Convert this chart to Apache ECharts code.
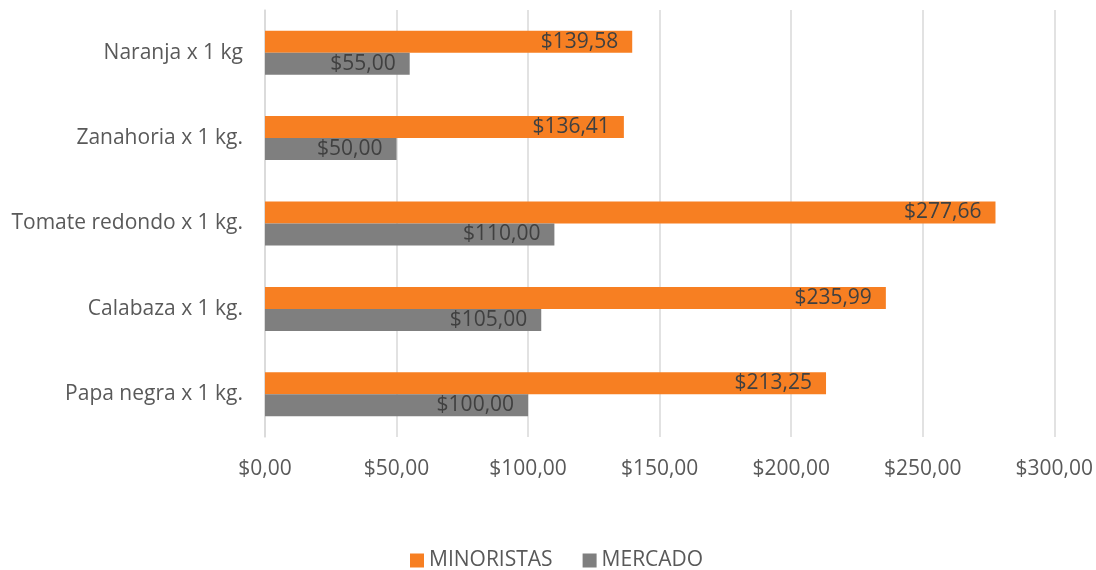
<!DOCTYPE html>
<html>
<head>
<meta charset="utf-8">
<script src="https://cdn.jsdelivr.net/npm/echarts@6/dist/echarts.min.js"></script>
<style>
  html, body { margin: 0; padding: 0; background: #fff; }
  #main { width: 1096px; height: 570px; }
</style>
</head>
<body>
<div id="main"></div>
<script>
// categories bottom -> top
const categories = ["Papa negra x 1 kg.", "Calabaza x 1 kg.", "Tomate redondo x 1 kg.", "Zanahoria x 1 kg.", "Naranja x 1 kg"];
const minoristas = [213.25, 235.99, 277.66, 136.41, 139.58];
const mercado = [100, 105, 110, 50, 55];
const seriesNames = ["MINORISTAS", "MERCADO"];

const money = v => "$" + Number(v).toFixed(2).replace(".", ",");
const font = "Open Sans";

const chartDom = document.getElementById("main");
const myChart = echarts.init(chartDom);

const labelStyle = {
  show: true,
  position: "insideRight",
  distance: 14,
  color: "#404040",
  fontFamily: font,
  fontSize: 21,
  formatter: p => money(p.value),
};

const option = {
  animation: false,
  textStyle: { fontFamily: font },
  grid: { left: 265, right: 40, top: 10, bottom: 133, containLabel: false },
  legend: {
    bottom: -6,
    left: 405,
    data: seriesNames,
    icon: "rect",
    itemWidth: 14,
    itemHeight: 14,
    itemGap: 30,
    textStyle: { color: "#595959", fontSize: 21, fontFamily: font },
  },
  xAxis: {
    type: "value",
    min: 0,
    max: 300,
    interval: 50,
    axisLine: { show: false },
    axisTick: { show: false },
    splitLine: { lineStyle: { color: "#d9d9d9", width: 1.5 } },
    axisLabel: {
      color: "#595959",
      fontSize: 21,
      margin: 22,
      formatter: v => money(v),
    },
  },
  yAxis: {
    type: "category",
    data: categories,
    axisLine: { show: true, lineStyle: { color: "#d9d9d9", width: 1.5 } },
    axisTick: { show: false },
    axisLabel: { color: "#595959", fontSize: 21, margin: 22 },
  },
  series: [
    {
      name: seriesNames[0],
      type: "bar",
      data: minoristas,
      barWidth: 22,
      barGap: "0%",
      itemStyle: { color: "#f77f22" },
      label: labelStyle,
    },
    {
      name: seriesNames[1],
      type: "bar",
      data: mercado,
      barWidth: 22,
      barGap: "0%",
      itemStyle: { color: "#7f7f7f" },
      label: labelStyle,
    },
  ],
};
myChart.setOption(option);
</script>
</body>
</html>
